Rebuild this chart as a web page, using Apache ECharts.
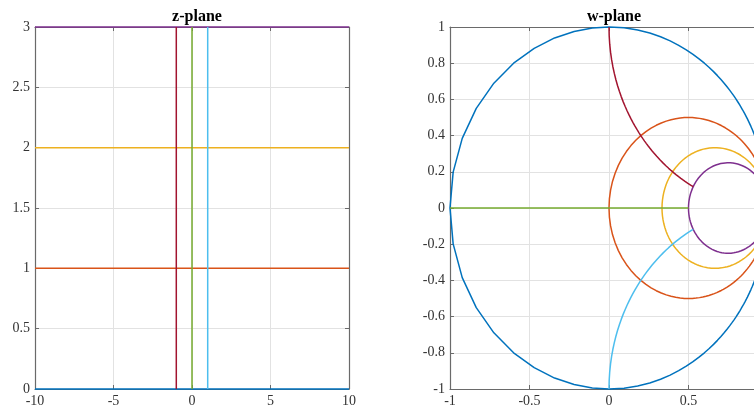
<!DOCTYPE html>
<html>
<head>
<meta charset="utf-8">
<script src="https://cdn.jsdelivr.net/npm/echarts@6/dist/echarts.min.js"></script>
<style>
  html, body { margin: 0; padding: 0; background: #fff; }
  #main { width: 754px; height: 414px; }
</style>
</head>
<body>
<div id="main"></div>
<script>
var chart = echarts.init(document.getElementById('main'));

// z-plane grid lines: horizontal levels y = c, vertical levels x = c
var yLevels = [0, 1, 2, 3];
var yColors = ['#0072BD', '#D95319', '#EDB120', '#7E2F8E'];
var xLevels = [0, 1, -1];
var xColors = ['#77AC30', '#4DBEEE', '#A2142F'];
var xSpan = [-10, 10], xStep = 0.1;
var ySpan = [0, 3], yStep = 0.05;

// tick labels
var zTicksX = [-10, -5, 0, 5, 10];
var zTicksY = [0, 0.5, 1, 1.5, 2, 2.5, 3];
var wTicksX = [-1, -0.5, 0, 0.5, 1];
var wTicksY = [-1, -0.8, -0.6, -0.4, -0.2, 0, 0.2, 0.4, 0.6, 0.8, 1];

function samples(span, step) {
  var n = Math.round((span[1] - span[0]) / step), out = [];
  for (var k = 0; k <= n; k++) out.push(+(span[0] + k * step).toFixed(4));
  return out;
}
// w = (z - i) / (z + i)
function mapW(a, b) {
  var d = a * a + (b + 1) * (b + 1);
  return [(a * a + b * b - 1) / d, -2 * a / d];
}

var xs = samples(xSpan, xStep), ys = samples(ySpan, yStep);
var series = [];

yLevels.forEach(function (c, i) {
  series.push({ type: 'line', xAxisIndex: 0, yAxisIndex: 0, color: yColors[i],
    data: xs.map(function (x) { return [x, c]; }) });
  series.push({ type: 'line', xAxisIndex: 2, yAxisIndex: 2, color: yColors[i],
    data: xs.map(function (x) { return mapW(x, c); }) });
});
xLevels.forEach(function (c, i) {
  series.push({ type: 'line', xAxisIndex: 0, yAxisIndex: 0, color: xColors[i],
    data: ys.map(function (y) { return [c, y]; }) });
  series.push({ type: 'line', xAxisIndex: 2, yAxisIndex: 2, color: xColors[i],
    data: ys.map(function (y) { return mapW(c, y); }) });
});
series.forEach(function (s) {
  s.showSymbol = false; s.symbol = 'none'; s.clip = false; s.animation = false;
  s.lineStyle = { width: 1.5 }; s.z = 5;
});

var font = 'Liberation Serif';
function mkAxis(pos, grid, ticks, main) {
  return {
    type: 'value', gridIndex: grid, position: pos,
    min: ticks[0], max: ticks[ticks.length - 1],
    interval: +(ticks[1] - ticks[0]).toFixed(4),
    axisLine: { show: true, onZero: false, lineStyle: { color: '#6a6a6a', width: 1.2 } },
    axisTick: { show: true, inside: true, length: 4, lineStyle: { color: '#6a6a6a' } },
    axisLabel: { show: main, color: '#333', fontFamily: font, fontSize: 14, margin: 5,
      formatter: function (v) { return String(+v.toFixed(4)); } },
    splitLine: { show: main, lineStyle: { color: '#e2e2e2', width: 1 } }
  };
}

var option = {
  backgroundColor: '#fff',
  animation: false,
  title: [
    { text: 'z-plane', left: 192, top: 4, textAlign: 'center',
      textStyle: { fontFamily: font, fontSize: 16, fontWeight: 'bold', color: '#000' } },
    { text: 'w-plane', left: 609, top: 4, textAlign: 'center',
      textStyle: { fontFamily: font, fontSize: 16, fontWeight: 'bold', color: '#000' } }
  ],
  grid: [
    { left: 35, top: 27, width: 314, height: 362, containLabel: false, outerBoundsMode: 'none' },
    { left: 450, top: 27, width: 318, height: 362, containLabel: false, outerBoundsMode: 'none' }
  ],
  xAxis: [
    mkAxis('bottom', 0, zTicksX, true),
    mkAxis('top', 0, zTicksX, false),
    mkAxis('bottom', 1, wTicksX, true),
    mkAxis('top', 1, wTicksX, false)
  ],
  yAxis: [
    mkAxis('left', 0, zTicksY, true),
    mkAxis('right', 0, zTicksY, false),
    mkAxis('left', 1, wTicksY, true),
    mkAxis('right', 1, wTicksY, false)
  ],
  series: series
};

chart.setOption(option);
</script>
</body>
</html>
